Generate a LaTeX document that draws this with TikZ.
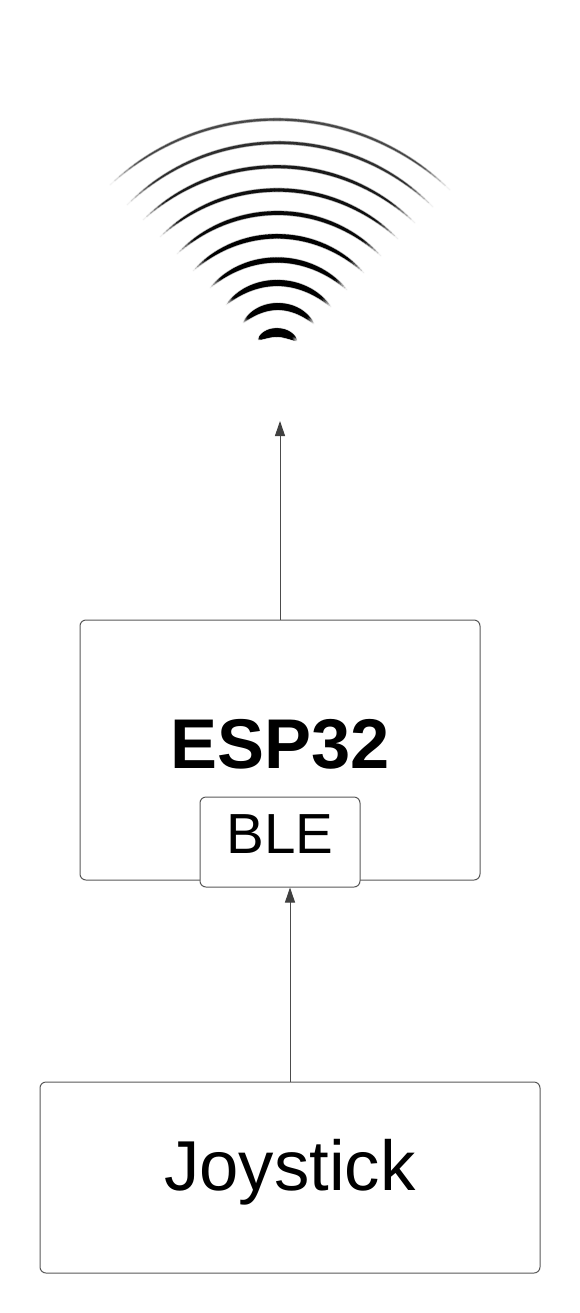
\documentclass[tikz,border=0pt]{standalone}
\usepackage{fontspec}
\setmainfont{Liberation Sans}
\usetikzlibrary{arrows.meta}
\tikzset{
  x=0.75pt,y=-0.75pt,
  boxnode/.style={draw=black!65,line width=0.75pt,rounded corners=4.5pt,fill=white,inner sep=0pt},
  labeltext/.style={anchor=base,inner sep=0pt,text=black},
  link/.style={draw=black!70,line width=0.75pt,-{Triangle[length=11.25pt,width=7.5pt,fill=black!75,color=black!75]}},
}
\begin{document}
\begin{tikzpicture}
\useasboundingbox[fill=white] (0,0) rectangle (580,1313);
% signal arcs: left x / right x / apex y / left end y / right end y / top width / core darkness
\foreach \xl/\xr/\yt/\yl/\yr/\wt/\dk in {
  110/450/119.5/185/190/2.0/72,
  127/433/142.7/205/207/2.4/82,
  143/415/166.7/220/223/2.8/90,
  160/398/190/237/239/3.1/94,
  177/381/213/254/256/3.6/97,
  193/364/236.3/271/273/4.1/100,
  210/347/260/288/290/4.8/100,
  226/331/283/305/307/5.6/100,
  243/314/306.5/323/324/6.4/100,
  258/297/332.5/340/341/8.0/100}{
  \pgfmathsetmacro{\cx}{(\xl+\xr)/2}
  \pgfmathsetmacro{\aa}{(\xr-\xl)/2}
  \pgfmathsetmacro{\ye}{(\yl+\yr)/2}
  \pgfmathsetmacro{\hh}{\ye-\yt}
  \pgfmathsetmacro{\RR}{(\aa/\hh*\aa+\hh)/2}
  \pgfmathsetmacro{\tmax}{asin(\aa/\RR)}
  \pgfmathsetmacro{\tilt}{(\yr-\yl)/(\xr-\xl)}
  \foreach \i in {-30,...,29}{
    \pgfmathsetmacro{\ta}{\i/30}
    \pgfmathsetmacro{\tb}{(\i+1)/30}
    \pgfmathsetmacro{\tm}{abs((\i+0.5)/30)}
    \pgfmathsetmacro{\xa}{\cx+\RR*sin(\ta*\tmax)}
    \pgfmathsetmacro{\ya}{\yt+\RR*(1-cos(\ta*\tmax))+\tilt*\RR*sin(\ta*\tmax)}
    \pgfmathsetmacro{\xb}{\cx+\RR*sin(\tb*\tmax)}
    \pgfmathsetmacro{\yb}{\yt+\RR*(1-cos(\tb*\tmax))+\tilt*\RR*sin(\tb*\tmax)}
    \pgfmathsetmacro{\wd}{0.75*(\wt*(1-\tm*\tm*\tm)+0.2)}
    \pgfmathsetmacro{\fade}{min(1,(1-\tm)*5)}
    \pgfmathsetmacro{\halo}{30*\fade}
    \draw[black!\halo,line width=\wd pt+1.0pt,line cap=butt] (\xa,\ya) -- (\xb,\yb);
  }
  \foreach \i in {-30,...,29}{
    \pgfmathsetmacro{\ta}{\i/30}
    \pgfmathsetmacro{\tb}{(\i+1)/30}
    \pgfmathsetmacro{\tm}{abs((\i+0.5)/30)}
    \pgfmathsetmacro{\xa}{\cx+\RR*sin(\ta*\tmax)}
    \pgfmathsetmacro{\ya}{\yt+\RR*(1-cos(\ta*\tmax))+\tilt*\RR*sin(\ta*\tmax)}
    \pgfmathsetmacro{\xb}{\cx+\RR*sin(\tb*\tmax)}
    \pgfmathsetmacro{\yb}{\yt+\RR*(1-cos(\tb*\tmax))+\tilt*\RR*sin(\tb*\tmax)}
    \pgfmathsetmacro{\wd}{0.75*(\wt*(1-\tm*\tm*\tm)+0.2)}
    \pgfmathsetmacro{\fade}{min(1,(1-\tm)*5)}
    \pgfmathsetmacro{\core}{\dk*\fade}
    \draw[black!\core,line width=\wd pt,line cap=round] (\xa,\ya) -- (\xb,\yb);
  }
}
% boxes
\node[boxnode,minimum width=300pt,minimum height=195pt] (esp) at (280,750) {};
\node[boxnode,minimum width=120pt,minimum height=67.5pt] (ble) at (280,842) {};
\node[boxnode,minimum width=375pt,minimum height=143.25pt] (joy) at (290,1177.5) {};
% labels
\node[labeltext,font=\fontsize{52.8}{60}\selectfont\bfseries] (esplabel) at (280,768) {ESP32};
\node[labeltext,font=\fontsize{42.4}{50}\selectfont] (blelabel) at (280,853) {BLE};
\node[labeltext,font=\fontsize{53}{62}\selectfont] (joylabel) at (290,1190) {Joystick};
% connectors
\coordinate (sky) at (280,421);
\draw[link] (esp.north) -- (sky);
\draw[link] (joy.north) -- (joy.north |- ble.south);
\end{tikzpicture}
\end{document}
